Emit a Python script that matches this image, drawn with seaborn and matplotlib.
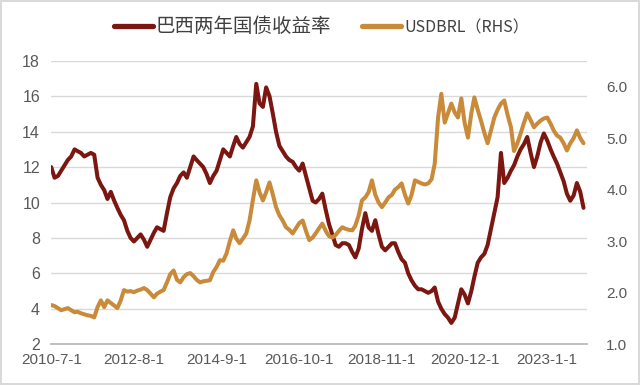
import matplotlib
matplotlib.use("Agg")
import matplotlib.pyplot as plt
import pandas as pd
import seaborn as sns

# 月度数据 2010-07 ~ 2023-12
dates = pd.date_range("2010-07-01", periods=162, freq="MS")

yield_2y = [
    12.0, 11.4, 11.5, 11.8, 12.1, 12.4, 12.6, 13.0, 12.9, 12.8, 12.6, 12.7,
    12.8, 12.7, 11.4, 11.0, 10.7, 10.2, 10.6, 10.1, 9.7, 9.3, 9.0, 8.4,
    8.0, 7.8, 8.0, 8.2, 7.9, 7.5, 7.9, 8.3, 8.6, 8.5, 8.4, 9.4,
    10.3, 10.8, 11.1, 11.5, 11.7, 11.4, 12.0, 12.6, 12.4, 12.2, 12.0, 11.6,
    11.1, 11.5, 11.8, 12.4, 13.0, 12.8, 12.6, 13.2, 13.7, 13.3, 13.1, 13.4,
    13.7, 14.3, 16.7, 15.6, 15.4, 16.5, 16.0, 15.0, 14.0, 13.2, 12.9, 12.6,
    12.4, 12.3, 12.0, 11.8, 12.2, 11.5, 10.8, 10.1, 10.0, 10.2, 10.5, 9.6,
    8.8, 8.2, 7.6, 7.5, 7.7, 7.7, 7.6, 7.2, 6.9, 7.4, 8.5, 9.4,
    8.6, 8.4, 9.0, 8.2, 7.5, 7.3, 7.5, 7.7, 7.7, 7.2, 6.8, 6.6,
    6.0, 5.6, 5.3, 5.1, 5.1, 5.0, 4.9, 5.0, 5.2, 4.4, 4.0, 3.7,
    3.5, 3.2, 3.5, 4.3, 5.1, 4.8, 4.3, 5.0, 5.8, 6.6, 6.9, 7.1,
    7.6, 8.5, 9.4, 10.3, 12.8, 11.1, 11.4, 11.8, 12.1, 12.6, 13.0, 13.3,
    13.7, 12.8, 12.0, 12.6, 13.4, 13.9, 13.5, 13.0, 12.6, 12.2, 11.7, 11.2,
    10.5, 10.1, 10.4, 11.1, 10.6, 9.7,
]

usdbrl = [
    1.76, 1.74, 1.70, 1.66, 1.68, 1.70, 1.66, 1.62, 1.63, 1.60, 1.58, 1.56,
    1.55, 1.52, 1.72, 1.85, 1.72, 1.85, 1.80, 1.75, 1.70, 1.85, 2.05, 2.02,
    2.03, 2.01, 2.04, 2.06, 2.09, 2.05, 1.98, 1.91, 1.98, 2.02, 2.05, 2.20,
    2.36, 2.43, 2.25, 2.20, 2.30, 2.36, 2.38, 2.32, 2.25, 2.20, 2.22, 2.23,
    2.24, 2.40, 2.50, 2.63, 2.62, 2.76, 3.00, 3.21, 3.05, 2.96, 3.05, 3.15,
    3.40, 3.80, 4.18, 3.95, 3.79, 3.95, 4.14, 3.90, 3.66, 3.50, 3.40, 3.27,
    3.22, 3.15, 3.25, 3.35, 3.40, 3.20, 3.02, 3.07, 3.15, 3.25, 3.34, 3.20,
    3.10, 3.07, 3.12, 3.20, 3.27, 3.24, 3.22, 3.21, 3.30, 3.50, 3.79, 3.85,
    3.95, 4.18, 3.90, 3.75, 3.66, 3.75, 3.85, 3.90, 4.00, 4.05, 4.12, 3.90,
    3.73, 3.90, 4.18, 4.15, 4.12, 4.10, 4.12, 4.20, 4.50, 5.40, 5.86, 5.30,
    5.48, 5.67, 5.50, 5.40, 5.77, 5.30, 5.01, 5.48, 5.79, 5.55, 5.34, 5.10,
    4.90, 5.15, 5.40, 5.55, 5.67, 5.73, 5.45, 5.21, 4.75, 4.90, 5.09, 5.30,
    5.48, 5.35, 5.21, 5.28, 5.34, 5.38, 5.40, 5.28, 5.15, 5.05, 5.01, 4.90,
    4.76, 4.90, 5.00, 5.15, 5.00, 4.90,
]

tick_dates = pd.to_datetime(["2010-07-01", "2012-08-01", "2014-09-01", "2016-10-01",
                             "2018-11-01", "2020-12-01", "2023-01-01"])
tick_labels = ["2010-7-1", "2012-8-1", "2014-9-1", "2016-10-1",
               "2018-11-1", "2020-12-1", "2023-1-1"]

df = pd.DataFrame({"date": dates, "yield": yield_2y, "usdbrl": usdbrl})

sns.set_theme(style="white")
plt.rcParams["font.family"] = ["Liberation Sans", "Noto Sans CJK SC", "DejaVu Sans"]

red = "#7b1710"
gold = "#c98a3a"
txt = "#595959"

fig = plt.figure(figsize=(6.4, 3.85), dpi=100)
fig.patch.set_edgecolor("#d9d9d9")
fig.patch.set_linewidth(1.5)
ax = fig.add_axes([0.08, 0.106, 0.837, 0.736])
ax2 = ax.twinx()

sns.lineplot(data=df, x="date", y="yield", ax=ax, color=red, linewidth=2.9,
             label="巴西两年国债收益率", legend=False)
sns.lineplot(data=df, x="date", y="usdbrl", ax=ax2, color=gold, linewidth=2.9,
             label="USDBRL（RHS）", legend=False)

ax.set_ylim(2, 18)
ax.set_yticks(range(2, 19, 2))
ax2.set_ylim(1, 6.5)
ax2.set_yticks([1, 2, 3, 4, 5, 6])
ax2.set_yticklabels([f"{v:.1f}" for v in [1, 2, 3, 4, 5, 6]])
ax.set_xlim(pd.Timestamp("2010-07-01"), pd.Timestamp("2024-01-01"))
ax.set_xticks(tick_dates)
ax.set_xticklabels(tick_labels)

ax.yaxis.grid(True, color="#d9d9d9", linewidth=1)
ax.set_axisbelow(True)
for a in (ax, ax2):
    a.set_xlabel("")
    a.set_ylabel("")
    for s in ("left", "right", "top"):
        a.spines[s].set_visible(False)
    a.spines["bottom"].set_color("#bfbfbf")
ax.tick_params(axis="x", length=4, color="#bfbfbf", labelsize=11, labelcolor=txt, pad=2)
ax.tick_params(axis="y", length=0, labelsize=11.5, labelcolor=txt, pad=8)
ax2.tick_params(axis="y", length=0, labelsize=11, labelcolor=txt, pad=14)

h1, l1 = ax.get_legend_handles_labels()
h2, l2 = ax2.get_legend_handles_labels()
leg = fig.legend(h1 + h2, l1 + l2, loc="center", bbox_to_anchor=(0.502, 0.93), ncol=2,
                 frameon=False, handlelength=2.0, columnspacing=1.6, handletextpad=0.15,
                 prop={"family": ["Noto Sans CJK SC", "DejaVu Sans"], "size": 14})
texts = leg.get_texts()
for t in texts:
    t.set_color("#404040")
texts[1].set_fontsize(11.5)
for line in leg.get_lines():
    line.set_linewidth(3.8)

fig.savefig("out.png", dpi=100)
